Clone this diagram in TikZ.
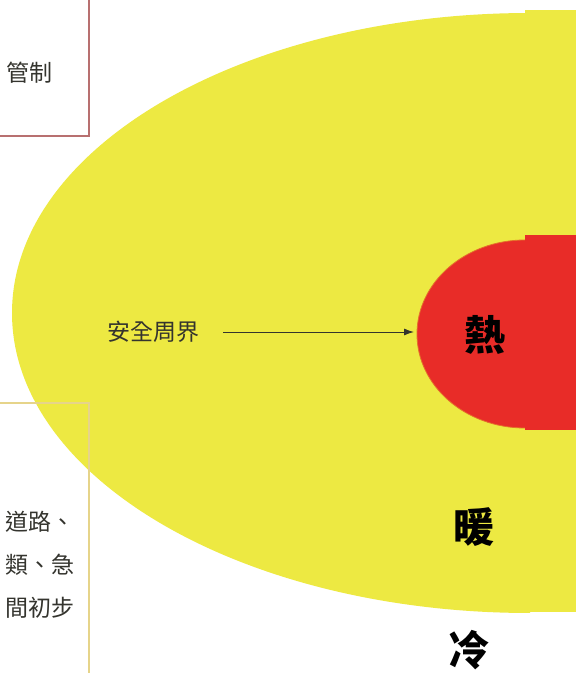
\documentclass[tikz,border=0pt]{standalone}
\usepackage{fontspec}
\newfontfamily\cjk{Noto Sans CJK TC}
\usetikzlibrary{arrows.meta}
\definecolor{zoneyellow}{RGB}{237,233,66}
\definecolor{zonered}{RGB}{232,44,40}
\definecolor{rededge}{RGB}{228,112,42}
\definecolor{boxred}{RGB}{184,112,112}
\definecolor{boxtan}{RGB}{230,212,138}
\definecolor{inkgray}{RGB}{52,52,46}
\tikzset{
  zoneword/.style={font=\cjk\bfseries\fontsize{41}{41}\selectfont, inner sep=0pt},
  sidetext/.style={font=\cjk\fontsize{23}{43}\selectfont, text=inkgray, inner sep=0pt}
}

\begin{document}
\begin{tikzpicture}[x=1pt,y=1pt]
			%%%%% START %%%%%
			
			\useasboundingbox[fill=white] (0,0) rectangle (576,673);
			
			% yellow zone, cut and shifted on the right
			\fill[zoneyellow] (530,60) arc[start angle=270, end angle=90, x radius=518, y radius=300] -- cycle;
			\fill[zoneyellow] (525,61) rectangle (576,663);
			
			% red zone
			\fill[zonered] (525,245) arc[start angle=270, end angle=90, x radius=108, y radius=94] -- cycle;
			\draw[rededge, line width=0.8pt] (525,245) arc[start angle=270, end angle=90, x radius=108, y radius=94];
			\fill[zonered] (525,243) rectangle (576,438);
			
			\node[zoneword] (hot) at (485,338) {熱};
			\node[zoneword] (warm) at (474,146) {暖};
			\node[zoneword] (cold) at (469,23) {冷};
			
			\node[sidetext] (perimeter) at (153,341) {安全周界};
			\coordinate (hotedge) at (414,341);
			\draw[-{Latex[length=10pt,width=7pt]}, line width=0.9pt, inkgray, shorten <=24pt] (perimeter.east) -- (hotedge);
			
			% side boxes, running off the page
			\draw[boxred, line width=1.3pt] (-10,537) rectangle (89,690);
			\node[sidetext, anchor=east] (control) at (53,600) {管制};
			
			\draw[boxtan, line width=1.3pt] (-10,270) rectangle (89,-20);
			\node[sidetext, anchor=east, align=right] (measures) at (75,108) {道路、\\類、急\\間初步};
			
			%%%%% END %%%%%
		\end{tikzpicture}
\end{document}
